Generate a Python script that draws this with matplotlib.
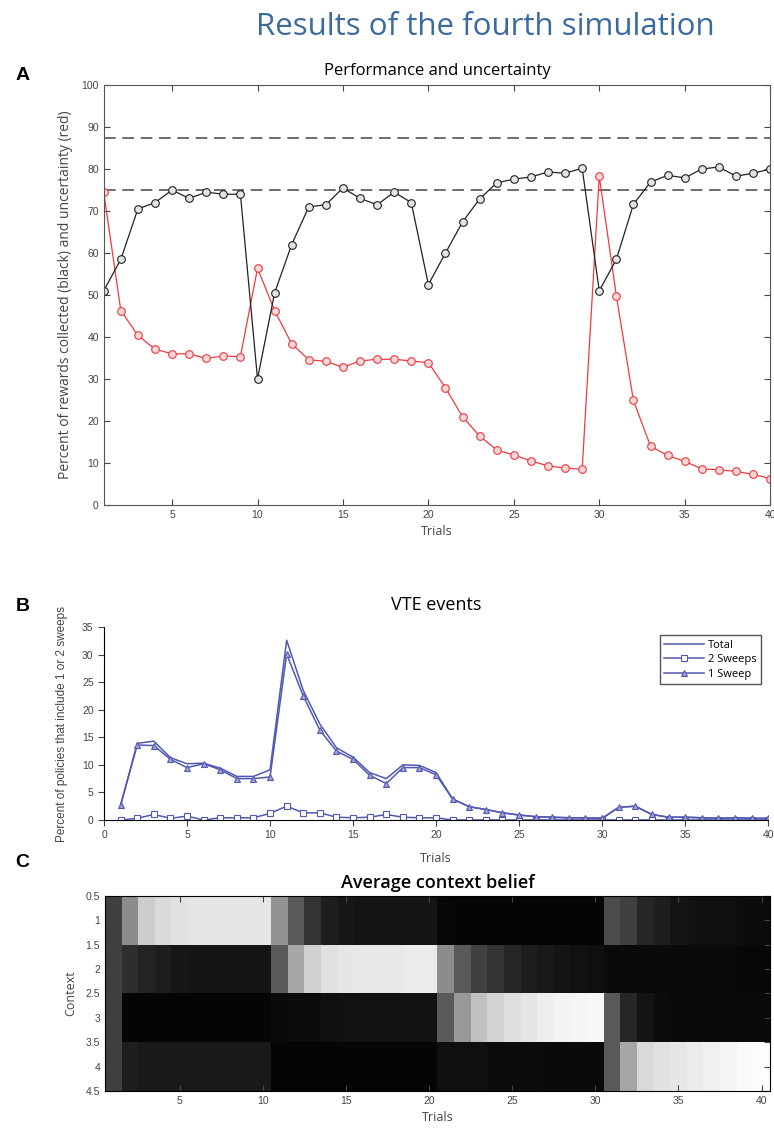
import matplotlib
matplotlib.use('Agg')
import matplotlib.pyplot as plt
import numpy as np

# panel A: performance (black) and uncertainty (red)
trials = list(range(1, 41))
performance = [51, 58.5, 70.5, 72, 75, 73, 74.5, 74, 74, 30,
               50.5, 62, 71, 71.5, 75.5, 73, 71.5, 74.5, 72, 52.5,
               60, 67.4, 72.9, 76.7, 77.6, 78.1, 79.3, 79, 80.2, 51,
               58.5, 71.6, 76.9, 78.5, 77.9, 80, 80.5, 78.3, 79, 80]
uncertainty = [74.5, 46.3, 40.4, 37.1, 36, 36, 34.9, 35.5, 35.3, 56.4,
               46.3, 38.4, 34.6, 34.2, 32.8, 34.3, 34.7, 34.7, 34.3, 33.9,
               27.9, 21, 16.4, 13.1, 11.9, 10.5, 9.3, 8.8, 8.5, 78.3,
               49.8, 24.9, 14, 11.8, 10.4, 8.6, 8.4, 8, 7.3, 6.3]
thresholds = [87.5, 75]

# panel B: VTE events
total = [2.7, 13.9, 14.3, 11.3, 10.2, 10.3, 9.4, 7.9, 7.9, 9.1,
         32.6, 23.5, 17.4, 13.1, 11.4, 8.6, 7.5, 10.0, 9.9, 8.6,
         3.8, 2.4, 1.9, 1.3, 0.9, 0.6, 0.5, 0.4, 0.4, 0.3,
         2.3, 2.5, 1.0, 0.5, 0.5, 0.4, 0.3, 0.4, 0.3, 0.3]
two_sweeps = [0, 0.3, 1.0, 0.3, 0.7, 0, 0.4, 0.4, 0.4, 1.2,
              2.5, 1.3, 1.3, 0.5, 0.4, 0.5, 1.0, 0.5, 0.4, 0.4,
              0, 0, 0, 0, 0, 0, 0, 0, 0, 0,
              0, 0, 0, 0, 0, 0, 0, 0, 0, 0]
one_sweep = [2.7, 13.6, 13.5, 11.0, 9.5, 10.2, 9.1, 7.5, 7.5, 7.8,
             30.1, 22.5, 16.3, 12.5, 11.0, 8.1, 6.6, 9.5, 9.5, 8.2,
             3.8, 2.4, 1.9, 1.3, 0.9, 0.6, 0.5, 0.4, 0.4, 0.3,
             2.3, 2.5, 1.0, 0.5, 0.5, 0.4, 0.3, 0.4, 0.3, 0.3]

# panel C: average context belief (0 = black, 1 = white)
context1 = [0.25, 0.55, 0.8, 0.85, 0.88, 0.9, 0.9, 0.9, 0.9, 0.9,
            0.58, 0.35, 0.2, 0.12, 0.09, 0.08, 0.08, 0.08, 0.08, 0.08,
            0.03, 0.02, 0.02, 0.02, 0.02, 0.02, 0.02, 0.02, 0.02, 0.02,
            0.3, 0.25, 0.15, 0.12, 0.08, 0.07, 0.06, 0.06, 0.05, 0.05]
context2 = [0.25, 0.18, 0.14, 0.12, 0.09, 0.08, 0.08, 0.08, 0.08, 0.08,
            0.35, 0.65, 0.82, 0.88, 0.9, 0.91, 0.91, 0.91, 0.92, 0.92,
            0.55, 0.35, 0.25, 0.2, 0.15, 0.12, 0.1, 0.08, 0.07, 0.06,
            0.04, 0.04, 0.04, 0.04, 0.04, 0.04, 0.04, 0.04, 0.03, 0.03]
context3 = [0.25, 0.02, 0.02, 0.02, 0.02, 0.02, 0.02, 0.02, 0.02, 0.02,
            0.04, 0.05, 0.05, 0.06, 0.07, 0.07, 0.07, 0.07, 0.07, 0.07,
            0.35, 0.6, 0.75, 0.83, 0.87, 0.9, 0.93, 0.95, 0.96, 0.97,
            0.35, 0.15, 0.08, 0.05, 0.04, 0.04, 0.04, 0.04, 0.04, 0.04]
context4 = [0.25, 0.12, 0.1, 0.1, 0.1, 0.1, 0.1, 0.1, 0.1, 0.1,
            0.02, 0.02, 0.02, 0.02, 0.02, 0.02, 0.02, 0.02, 0.02, 0.02,
            0.06, 0.06, 0.06, 0.05, 0.05, 0.05, 0.04, 0.04, 0.04, 0.04,
            0.35, 0.65, 0.85, 0.88, 0.9, 0.92, 0.94, 0.96, 0.98, 0.99]

tick_font = 'Liberation Sans'
label_font = 'Open Sans'
tick_col = '#444444'

fig = plt.figure(figsize=(7.74, 11.31), dpi=100)

fig.text(0.627, 0.976, 'Results of the fourth simulation', ha='center', va='center',
         fontsize=22.5, color='#3b6a9e', family=label_font)
fig.text(0.02, 0.929, 'A', fontsize=14, fontweight='bold', family='Liberation Sans')
fig.text(0.02, 0.460, 'B', fontsize=14, fontweight='bold', family='Liberation Sans')
fig.text(0.02, 0.233, 'C', fontsize=14, fontweight='bold', family='Liberation Sans')

# ---- A ----
ax = fig.add_axes([0.134, 0.5535, 0.861, 0.3713])
for t in thresholds:
    ax.axhline(t, color='#555555', lw=1.2, ls=(0, (7, 4)))
ax.plot(trials, uncertainty, color='#f03a40', lw=0.9, marker='o', ms=5.5,
        mfc='#fbd6d6', mec='#e83a40', mew=0.8)
ax.plot(trials, performance, color='#222222', lw=0.9, marker='o', ms=5.5,
        mfc='#e4e4e4', mec='#222222', mew=0.8)
ax.set_xlim(1, 40)
ax.set_ylim(0, 100)
ax.set_xticks(range(5, 41, 5))
ax.set_yticks(range(0, 101, 10))
ax.tick_params(direction='in', top=True, right=True, labelsize=7.5, colors=tick_col,
               length=4, width=0.8)
for lab in ax.get_xticklabels() + ax.get_yticklabels():
    lab.set_family(tick_font)
    lab.set_color(tick_col)
for s in ax.spines.values():
    s.set_color('#555555')
ax.set_title('Performance and uncertainty', fontsize=12, family=label_font, pad=7)
ax.set_xlabel('Trials', fontsize=9, family=label_font, color='#444444', labelpad=4)
ax.set_ylabel('Percent of rewards collected (black) and uncertainty (red)', fontsize=10,
              family=label_font, color='#444444', labelpad=6)

# ---- B ----
blue = '#5259b0'
bx = fig.add_axes([0.1344, 0.2750, 0.858, 0.1706])
bx.plot(trials, total, color=blue, lw=1.1, label='Total')
bx.plot(trials, two_sweeps, color=blue, lw=1.1, marker='s', ms=4.5, mfc='white',
        mec=blue, mew=0.8, label='2 Sweeps')
bx.plot(trials, one_sweep, color=blue, lw=1.1, marker='^', ms=5, mfc='#9ea2d6',
        mec=blue, mew=0.8, label='1 Sweep')
bx.set_xlim(0, 40)
bx.set_ylim(0, 35)
bx.set_xticks(range(0, 41, 5))
bx.set_yticks(range(0, 36, 5))
bx.spines['top'].set_visible(False)
bx.spines['right'].set_visible(False)
bx.tick_params(direction='out', labelsize=7.5, colors=tick_col, length=4, width=0.8)
for lab in bx.get_xticklabels() + bx.get_yticklabels():
    lab.set_family(tick_font)
bx.set_title('VTE events', fontsize=13, family=label_font, pad=12)
bx.set_xlabel('Trials', fontsize=9, family=label_font, color='#444444', labelpad=8)
bx.set_ylabel('Percent of policies that include 1 or 2 sweeps', fontsize=8.5,
              family='Liberation Sans', color='#444444', labelpad=10)
leg = bx.legend(loc='upper right', bbox_to_anchor=(0.997, 0.985), fontsize=8,
                fancybox=False, framealpha=1, edgecolor='#555555', handlelength=3.6,
                borderpad=0.4, labelspacing=0.3, handletextpad=0.3)
for txt in leg.get_texts():
    txt.set_family(label_font)

# ---- C ----
cx = fig.add_axes([0.1357, 0.0354, 0.859, 0.1724])
belief = np.array([context1, context2, context3, context4])
cx.imshow(belief, cmap='gray', vmin=0, vmax=1, aspect='auto', interpolation='nearest',
          extent=[0.5, 40.5, 4.5, 0.5])
cx.set_xticks(range(5, 41, 5))
cx.set_yticks(np.arange(0.5, 4.51, 0.5))
cx.set_yticklabels(['0.5', '1', '1.5', '2', '2.5', '3', '3.5', '4', '4.5'])
cx.tick_params(direction='in', top=True, right=True, labelsize=7.5, colors=tick_col,
               length=4, width=0.8)
for lab in cx.get_xticklabels() + cx.get_yticklabels():
    lab.set_family(tick_font)
    lab.set_color(tick_col)
cx.set_title('Average context belief', fontsize=13, fontweight='semibold', family=label_font,
             pad=6)
cx.set_xlabel('Trials', fontsize=9, family=label_font, color='#444444', labelpad=4)
cx.set_ylabel('Context', fontsize=9, family=label_font, color='#444444', labelpad=6)

fig.savefig('out.png', dpi=100)
